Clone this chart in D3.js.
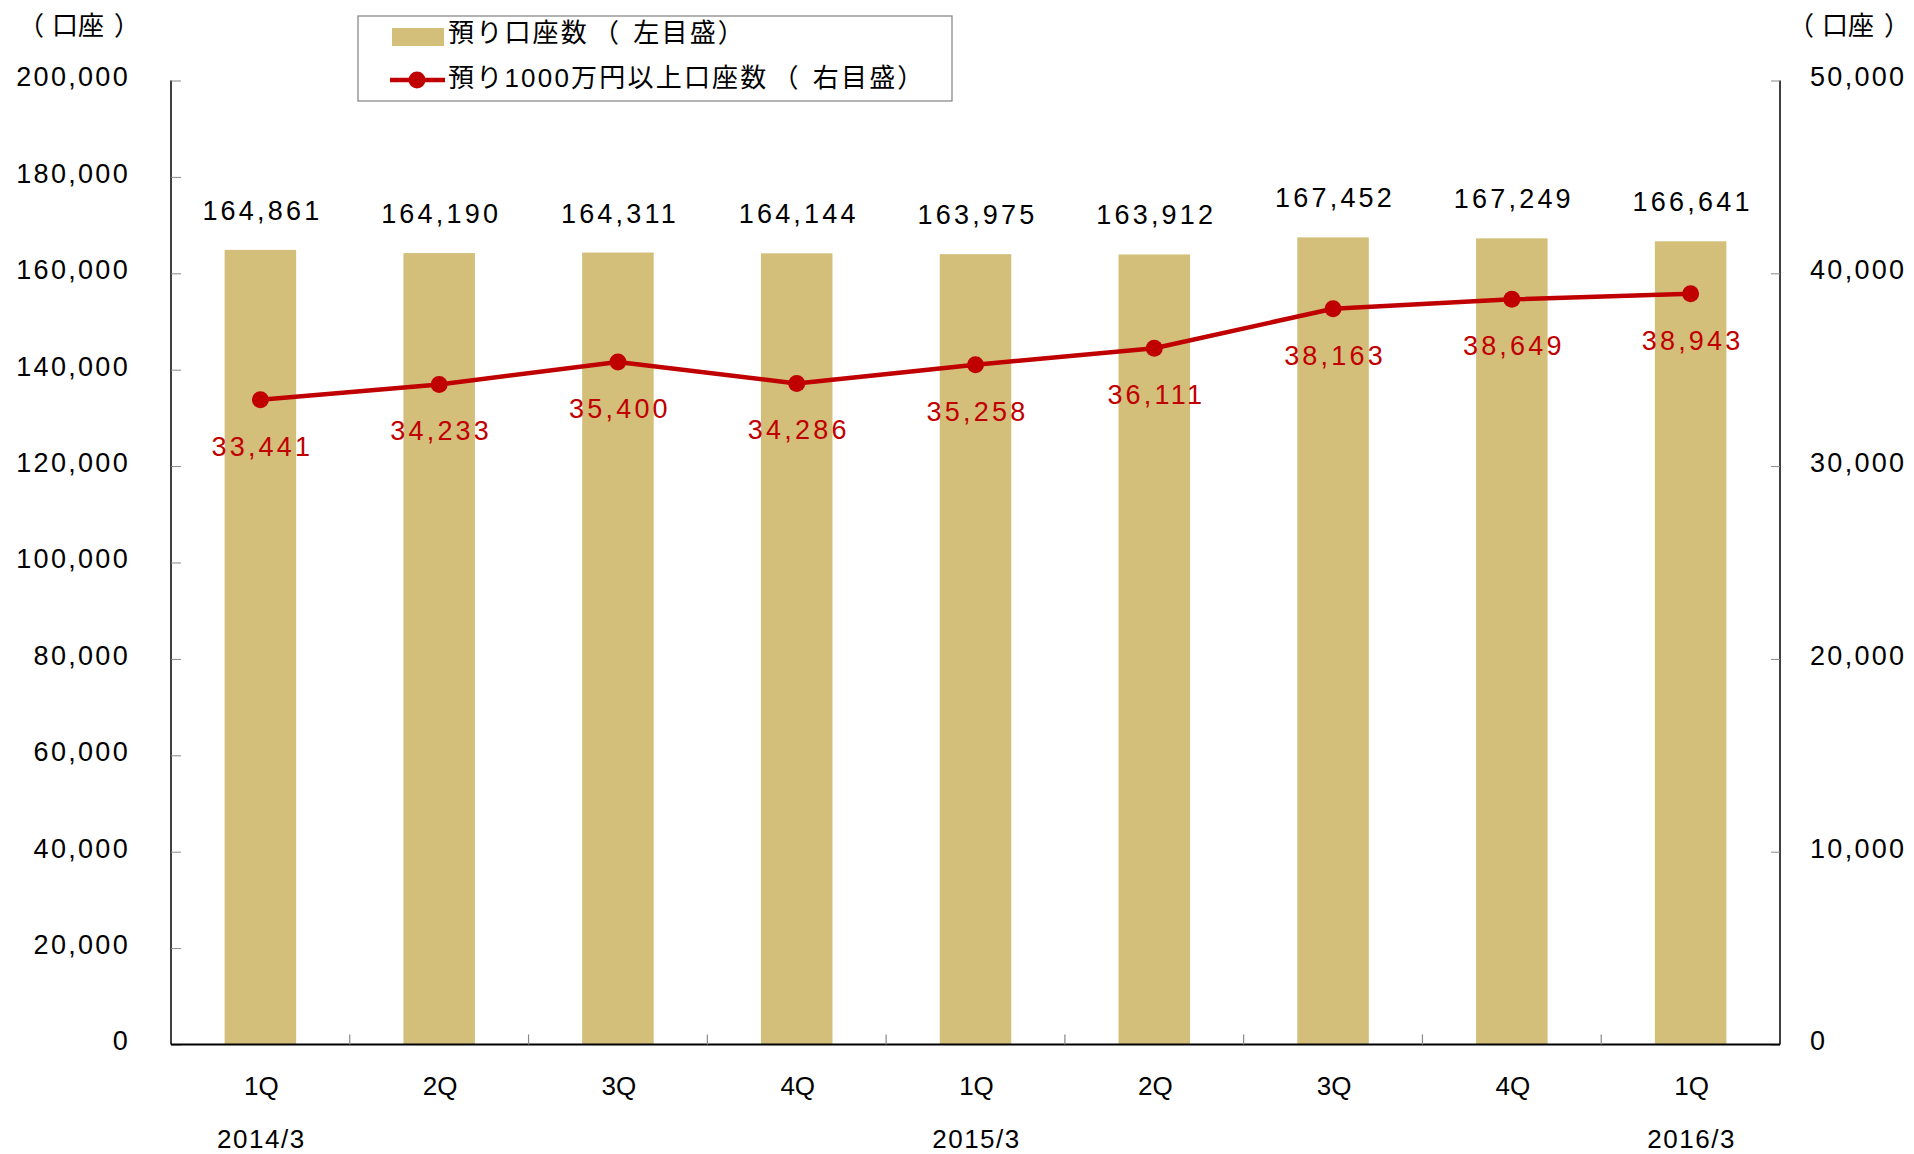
<!DOCTYPE html>
<html><head><meta charset="utf-8">
<script src="https://cdn.jsdelivr.net/npm/d3@7"></script>
<style>
html,body{margin:0;padding:0;background:#fff;}
svg text{font-family:"Liberation Sans","Noto Sans CJK JP",sans-serif;}
</style></head>
<body><svg id="chart" width="1914" height="1154"></svg>
<script>
const categories = ["1Q","2Q","3Q","4Q","1Q","2Q","3Q","4Q","1Q"];
const periodLabels = ["2014/3","","","","2015/3","","","","2016/3"];
const accounts = [164861,164190,164311,164144,163975,163912,167452,167249,166641];
const bigAccounts = [33441,34233,35400,34286,35258,36111,38163,38649,38943];
const leftTicks = [0,20000,40000,60000,80000,100000,120000,140000,160000,180000,200000];
const rightTicks = [0,10000,20000,30000,40000,50000];
const seriesNames = ["預り口座数（左目盛）","預り1000万円以上口座数（右目盛）"];
const unitLabel = "（口座）";

const svg = d3.select("#chart");
const L = 171, R = 1780, T = 80.5, B = 1044.5;
const barColor = "#D3BF7A", lineColor = "#C00000";
const fmt = d3.format(",");
const idx = categories.map((d,i)=>i);

// write text with extra spacing around full-width parentheses
function spacedText(sel, str, padBeforeOpen, padAfterOpen, padBeforeClose){
  const chars = Array.from(str);
  chars.forEach((c,i)=>{
    let dx = 0;
    if (c === "（") dx = padBeforeOpen;
    else if (c === "）") dx = padBeforeClose;
    else if (i>0 && chars[i-1] === "（") dx = padAfterOpen;
    sel.append("tspan").attr("dx", dx).text(c);
  });
}

const x = d3.scaleBand().domain(idx).range([L,R]).paddingInner(0).paddingOuter(0);
const yL = d3.scaleLinear().domain([0,200000]).range([B,T]);
const yR = d3.scaleLinear().domain([0,50000]).range([B,T]);
const bw = x.bandwidth()*0.40;

// bars
svg.append("g").selectAll("rect").data(accounts).join("rect")
  .attr("x",(d,i)=>x(i)+x.bandwidth()/2-bw/2)
  .attr("y",d=>yL(d))
  .attr("width",bw)
  .attr("height",d=>B-yL(d))
  .attr("fill",barColor);

// left axis
const gL = svg.append("g").attr("transform",`translate(${L},0)`)
  .call(d3.axisLeft(yL).tickValues(leftTicks).tickSize(-10).tickPadding(0).tickFormat(fmt));
gL.select(".domain").attr("stroke","#000").attr("stroke-width",1.5).attr("d",`M0,${T}V${B}`);
gL.selectAll(".tick line").attr("stroke","#888").attr("stroke-width",1);
gL.selectAll(".tick text").attr("x",-41).attr("dy","0.2em")
  .attr("font-size",27).attr("fill","#000").attr("letter-spacing",2.3).attr("text-anchor","end");

// right axis
const gR = svg.append("g").attr("transform",`translate(${R},0)`)
  .call(d3.axisRight(yR).tickValues(rightTicks).tickSize(-9).tickPadding(0).tickFormat(fmt));
gR.select(".domain").attr("stroke","#000").attr("stroke-width",1.5).attr("d",`M0,${T}V${B}`);
gR.selectAll(".tick line").attr("stroke","#888").attr("stroke-width",1);
gR.selectAll(".tick text").attr("x",30).attr("dy","0.2em")
  .attr("font-size",27).attr("fill","#000").attr("letter-spacing",2.3).attr("text-anchor","start");

// bottom axis
const gB = svg.append("g").attr("transform",`translate(0,${B})`)
  .call(d3.axisBottom(x).tickSize(0).tickFormat(""));
gB.select(".domain").attr("stroke","#000").attr("stroke-width",2).attr("d",`M${L},0H${R}`);
gB.selectAll(".tick").remove();
svg.append("g").selectAll("line").data(idx.slice(1)).join("line")
  .attr("x1",d=>x(d)).attr("x2",d=>x(d))
  .attr("y1",B).attr("y2",B-10)
  .attr("stroke","#888").attr("stroke-width",1.2);

// category labels
svg.append("g").selectAll("text").data(categories).join("text")
  .attr("x",(d,i)=>x(i)+x.bandwidth()/2+1)
  .attr("y",1095)
  .attr("text-anchor","middle").attr("font-size",26).attr("fill","#000")
  .text(d=>d);
svg.append("g").selectAll("text").data(periodLabels).join("text")
  .attr("x",(d,i)=>x(i)+x.bandwidth()/2+1)
  .attr("y",1148)
  .attr("text-anchor","middle").attr("font-size",26).attr("fill","#000").attr("letter-spacing",1.5)
  .text(d=>d);

// line
const line = d3.line().x((d,i)=>x(i)+x.bandwidth()/2).y(d=>yR(d));
svg.append("path").datum(bigAccounts).attr("d",line)
  .attr("fill","none").attr("stroke",lineColor).attr("stroke-width",4.5).attr("stroke-linejoin","round");
svg.append("g").selectAll("circle").data(bigAccounts).join("circle")
  .attr("cx",(d,i)=>x(i)+x.bandwidth()/2).attr("cy",d=>yR(d)).attr("r",8.5)
  .attr("fill",lineColor);

// bar value labels
svg.append("g").selectAll("text").data(accounts).join("text")
  .attr("x",(d,i)=>x(i)+x.bandwidth()/2+2)
  .attr("y",d=>yL(d)-30)
  .attr("text-anchor","middle").attr("font-size",27).attr("letter-spacing",3.2).attr("fill","#000")
  .text(d=>fmt(d));
// line value labels
svg.append("g").selectAll("text").data(bigAccounts).join("text")
  .attr("x",(d,i)=>x(i)+x.bandwidth()/2+2)
  .attr("y",d=>yR(d)+56)
  .attr("text-anchor","middle").attr("font-size",27).attr("letter-spacing",3.2).attr("fill",lineColor)
  .text(d=>fmt(d));

// unit labels
[18, 1788].forEach(ux=>{
  const t = svg.append("text").attr("x",ux).attr("y",35).attr("font-size",26).attr("fill","#000");
  spacedText(t, unitLabel, 0, 8, 10);
});

// legend
const lg = svg.append("g");
lg.append("rect").attr("x",358).attr("y",16).attr("width",594).attr("height",85)
  .attr("fill","#fff").attr("stroke","#808080").attr("stroke-width",1.2);
lg.append("rect").attr("x",392).attr("y",28).attr("width",52).attr("height",18).attr("fill",barColor);
lg.append("line").attr("x1",390).attr("x2",445).attr("y1",80).attr("y2",80)
  .attr("stroke",lineColor).attr("stroke-width",4.5);
lg.append("circle").attr("cx",417).attr("cy",80).attr("r",8.5).attr("fill",lineColor);
seriesNames.forEach((name,i)=>{
  const t = lg.append("text").attr("x",448).attr("y",i===0?42:87)
    .attr("font-size",26).attr("letter-spacing",2.2).attr("fill","#000");
  spacedText(t, name, 4, 12, 0);
});
</script></body></html>
